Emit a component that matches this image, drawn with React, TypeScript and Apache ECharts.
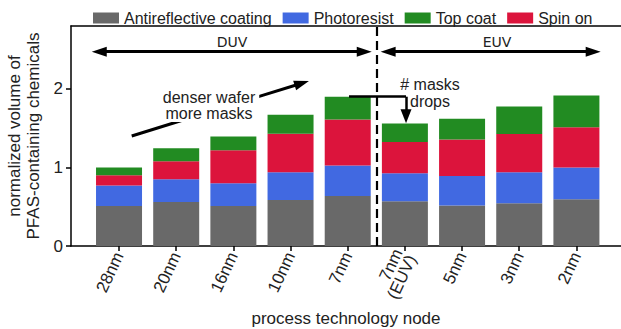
import React, { useEffect, useRef } from "react";
import * as echarts from "echarts";

const categories = ["28nm", "20nm", "16nm", "10nm", "7nm", "7nm\n(EUV)", "5nm", "3nm", "2nm"];
const antireflective = [0.51, 0.56, 0.51, 0.585, 0.635, 0.57, 0.515, 0.545, 0.595];
const photoresist = [0.26, 0.29, 0.29, 0.355, 0.39, 0.355, 0.375, 0.395, 0.405];
const spinOn = [0.13, 0.23, 0.42, 0.49, 0.585, 0.4, 0.465, 0.485, 0.51];
const topCoat = [0.1, 0.165, 0.175, 0.24, 0.29, 0.235, 0.265, 0.35, 0.405];
const yTicks = [0, 1, 2];
const legendOrder = ["Antireflective coating", "Photoresist", "Top coat", "Spin on"];

const FONT = "Liberation Sans, Arial, Helvetica, sans-serif";
const X_MIN = -0.84;
const X_MAX = 8.78;
const Y_MAX = 2.8;

export default function App() {
  const ref = useRef<HTMLDivElement>(null);
  useEffect(() => {
    document.body.style.margin = "0";
    const chart = echarts.init(ref.current as HTMLDivElement, null, { renderer: "svg" });
    const barBase = {
      type: "bar",
      stack: "total",
      barWidth: 46,
      xAxisIndex: 1,
      yAxisIndex: 1,
    };
    const arrowStyle = { color: "#000", width: 3, type: "solid" };
    const option: any = {
      animation: false,
      textStyle: { fontFamily: FONT },
      legend: {
        data: legendOrder,
        left: 88,
        top: 5,
        icon: "rect",
        itemWidth: 26,
        itemHeight: 11,
        itemGap: 11,
        selectedMode: false,
        textStyle: { fontSize: 16, color: "#222", fontFamily: FONT },
      },
      grid: [
        { left: 71, right: 0, top: 26, bottom: 83, containLabel: false, outerBoundsMode: "none" },
        { left: 90.44, right: 16.0, top: 26, bottom: 83, containLabel: false, outerBoundsMode: "none" },
      ],
      xAxis: [
        {
          type: "value",
          gridIndex: 0,
          min: X_MIN,
          max: X_MAX,
          axisLine: { show: true, onZero: false, lineStyle: { color: "#000", width: 1.5 } },
          axisTick: { show: false },
          axisLabel: { show: false },
          splitLine: { show: false },
          name: "process technology node",
          nameLocation: "middle",
          nameGap: 64,
          nameTextStyle: { fontSize: 17, color: "#222", fontFamily: FONT },
        },
        {
          type: "category",
          gridIndex: 1,
          data: categories,
          axisLine: { show: false, onZero: false },
          axisTick: { show: true, alignWithLabel: true, length: 5, lineStyle: { color: "#000", width: 1.5 } },
          axisLabel: {
            interval: 0,
            rotate: 65,
            fontSize: 17,
            color: "#222",
            margin: 7,
            lineHeight: 15,
            fontFamily: FONT,
          },
        },
        {
          type: "value",
          gridIndex: 0,
          position: "top",
          min: X_MIN,
          max: X_MAX,
          axisLine: { show: true, onZero: false, lineStyle: { color: "#000", width: 1.5 } },
          axisTick: { show: false },
          axisLabel: { show: false },
          splitLine: { show: false },
        },
      ],
      yAxis: [
        {
          type: "value",
          gridIndex: 0,
          min: 0,
          max: Y_MAX,
          position: "left",
          axisLine: { show: true, onZero: false, lineStyle: { color: "#000", width: 1.5 } },
          axisTick: { show: true, length: 5, customValues: yTicks, lineStyle: { color: "#000", width: 1.5 } },
          axisLabel: { customValues: yTicks, fontSize: 17, color: "#222", margin: 8, fontFamily: FONT },
          splitLine: { show: false },
          name: "normalized volume of\nPFAS-containing chemicals",
          nameLocation: "middle",
          nameRotate: 90,
          nameGap: 22,
          nameTextStyle: { fontSize: 17, color: "#222", lineHeight: 19, fontFamily: FONT },
        },
        {
          type: "value",
          gridIndex: 1,
          min: 0,
          max: Y_MAX,
          show: false,
          axisLine: { show: false, onZero: false },
        },
      ],
      series: [
        { ...barBase, name: "Antireflective coating", data: antireflective, itemStyle: { color: "#696969" } },
        { ...barBase, name: "Photoresist", data: photoresist, itemStyle: { color: "#4169E1" } },
        { ...barBase, name: "Spin on", data: spinOn, itemStyle: { color: "#DC143C" } },
        { ...barBase, name: "Top coat", data: topCoat, itemStyle: { color: "#228B22" } },
        {
          type: "scatter",
          name: "arrows",
          xAxisIndex: 0,
          yAxisIndex: 0,
          data: [],
          silent: true,
          markLine: {
            silent: true,
            animation: false,
            label: { show: false },
            lineStyle: arrowStyle,
            symbolSize: [10, 15],
            data: [
              [
                { coord: [-0.346, 2.473], symbol: "triangle" },
                { coord: [4.289, 2.473], symbol: "triangle" },
              ],
              [
                { coord: [4.707, 2.473], symbol: "triangle" },
                { coord: [8.294, 2.473], symbol: "triangle" },
              ],
              [
                { coord: [0.222, 1.4], symbol: "none" },
                { coord: [3.197, 2.072], symbol: "triangle" },
              ],
              [
                { coord: [4.023, 1.9], symbol: "none", lineStyle: { width: 2.5 } },
                { coord: [5.02, 1.9], symbol: "none" },
              ],
              [
                { coord: [5.02, 1.9], symbol: "none", lineStyle: { width: 2.5 } },
                { coord: [5.02, 1.651], symbol: "triangle", symbolSize: [11, 14] },
              ],
            ],
          },
        },
        {
          type: "scatter",
          name: "divider",
          xAxisIndex: 0,
          yAxisIndex: 0,
          data: [],
          silent: true,
          markLine: {
            silent: true,
            animation: false,
            symbol: "none",
            label: { show: false },
            lineStyle: { color: "#000", width: 2.2, type: [9, 5] },
            data: [{ xAxis: 4.5 }],
          },
        },
      ],
      graphic: [
        {
          type: "text",
          x: 232,
          y: 42,
          style: { text: "DUV", fontSize: 14, fontFamily: "DejaVu Sans", fill: "#222", align: "center", verticalAlign: "middle" },
        },
        {
          type: "text",
          x: 497,
          y: 42,
          style: { text: "EUV", fontSize: 14, fontFamily: "DejaVu Sans", fill: "#222", align: "center", verticalAlign: "middle" },
        },
        {
          type: "text",
          x: 209,
          y: 105,
          z: 10,
          style: {
            text: "denser wafer\nmore masks",
            fontSize: 16,
            lineHeight: 16,
            fontFamily: FONT,
            fill: "#222",
            align: "center",
            verticalAlign: "middle",
            backgroundColor: "#fff",
            padding: [1, 4],
          },
        },
        {
          type: "text",
          x: 430,
          y: 93,
          style: {
            text: "# masks\ndrops",
            fontSize: 16,
            lineHeight: 17,
            fontFamily: FONT,
            fill: "#222",
            align: "center",
            verticalAlign: "middle",
          },
        },
      ],
    };
    chart.setOption(option);
    return () => chart.dispose();
  }, []);
  return <div ref={ref} style={{ width: 621, height: 329 }} />;
}
